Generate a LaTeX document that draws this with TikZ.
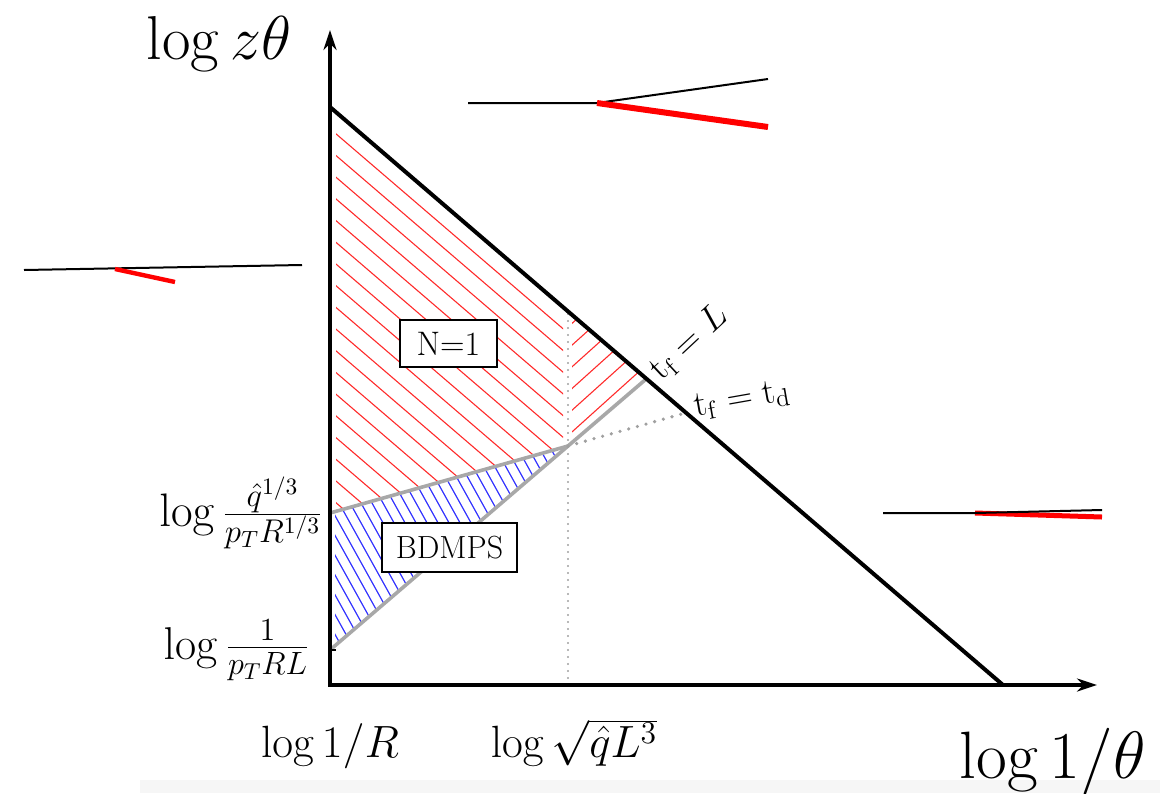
\documentclass[tikz,border=0pt]{standalone}
\usepackage{fix-cm}
\usepackage{tikz}
\usetikzlibrary{arrows.meta}
\definecolor{HatchRed}{HTML}{FF2A2A}
\definecolor{HatchBlue}{HTML}{3030FF}
\definecolor{BorderGray}{HTML}{A8A8A8}
\definecolor{DotGray}{HTML}{A0A0A0}
\definecolor{JetRed}{HTML}{FF0000}
\definecolor{StripGray}{HTML}{F6F6F6}

\begin{document}
\begin{tikzpicture}[x=0.5pt,y=-0.5pt,
    axis/.style={line width=2pt,{Stealth[length=10pt,width=6.5pt]}-{Stealth[length=10pt,width=6.5pt]}},
    edge/.style={line width=2pt},
    border/.style={BorderGray,line width=1.8pt},
    dotline/.style={DotGray,line width=1.8pt,line cap=round,dash pattern=on 0pt off 4.5pt},
    redhatch/.style={HatchRed,line width=0.55pt},
    bluehatch/.style={HatchBlue,line width=0.6pt},
    regionbox/.style={draw,line width=0.8pt,fill=white,inner sep=0pt,font=\fontsize{16}{19}\selectfont},
    biglabel/.style={font=\fontsize{31}{36}\selectfont,inner sep=0pt},
    ticklabel/.style={font=\fontsize{22.6}{27}\selectfont,inner sep=0pt},
    linelabel/.style={font=\fontsize{18}{21}\selectfont,inner sep=0pt},
    jet/.style={line width=1pt},
    lead/.style={JetRed,line width=3pt},
  ]
  \useasboundingbox (0,0) rectangle (1160,793);
  \fill[StripGray] (140,780) rectangle (1160,793);

  % corner points of the plane
  \coordinate (ytip) at (330,30);
  \coordinate (xtip) at (1097,685);
  \coordinate (ztop) at (330,107);
  \coordinate (zend) at (1003,685);
  \coordinate (qhat) at (330,513);
  \coordinate (inv) at (330,650);
  \coordinate (cross) at (568,446);
  \coordinate (sqrtL) at (568,685);
  \coordinate (tfL) at (intersection of inv--cross and ztop--zend);
  \coordinate (tftd) at (intersection of qhat--cross and ztop--zend);
  \coordinate (diag) at (intersection of sqrtL--cross and ztop--zend);

  % N=1 region
  \begin{scope}
    \clip (ztop) -- (qhat) -- (cross) -- (diag) -- cycle;
    \clip (336,0) rectangle (563,700);
    \foreach \k in {1,...,19}
      \draw[redhatch] (330,107+21.7*\k) -- ++(240,206);
  \end{scope}
  \begin{scope}
    \clip (diag) -- (cross) -- (tfL) -- cycle;
    \clip (572,0) rectangle (700,700);
    \foreach \k in {-3,...,6}
      \draw[redhatch] (568,327+21.7*\k) -- ++(100,-90);
  \end{scope}

  % BDMPS region
  \begin{scope}
    \clip (qhat) -- (cross) -- (inv) -- cycle;
    \clip (335,0) rectangle (700,700);
    \foreach \k in {0,...,34}
      \draw[bluehatch] (205+11*\k,440) -- ++(120,216);
  \end{scope}

  \draw[border] (inv) -- (tfL);
  \draw[border] (qhat) -- (cross);
  \draw[dotline] (cross) -- (tftd);
  \draw[dotline,line width=1.1pt,dash pattern=on 0pt off 3.5pt] (sqrtL) -- (diag);
  \draw[edge] (ztop) -- (zend);
  \draw[axis] (ytip) |- (xtip);
  \draw[line width=0.6pt] (inv) -- ++(6,0);

  \node[regionbox,minimum width=48.5pt,minimum height=23.5pt,font=\fontsize{17}{20}\selectfont] (single) at (448.5,343.5) {N=1};
  \node[regionbox,minimum width=67.5pt,minimum height=24.5pt] (bdmps) at (449.5,547.5) {BDMPS};

  \node[biglabel,anchor=base] (ylab) at (219,59) {$\log z\theta$};
  \node[biglabel,anchor=base,font=\fontsize{33.5}{38}\selectfont] (xlab) at (1053,778) {$\log 1/\theta$};
  \node[ticklabel,anchor=base] (rlab) at (330,757) {$\log 1/R$};
  \node[ticklabel,anchor=base] (llab) at (574,757) {$\log\sqrt{\hat q L^3}$};
  \node[ticklabel,font=\fontsize{23.5}{28}\selectfont,anchor=base east] (qlab) at (323,526) {$\log\frac{\hat q^{1/3}}{p_T R^{1/3}}$};
  \node[ticklabel,font=\fontsize{23}{28}\selectfont,anchor=base east] (plab) at (310,659) {$\log\frac{1}{p_TRL}$};
  \node[linelabel,rotate=43] (tLlab) at (689,343) {$\mathrm{t_f}=L$};
  \node[linelabel,rotate=10] (tdlab) at (742,400) {$\mathrm{t_f}=\mathrm{t_d}$};

  % jet sketches
  \coordinate (jaS) at (468,103);
  \coordinate (jaV) at (597,103);
  \coordinate (jaB) at (768,79);
  \coordinate (jaR) at (768,127);
  \draw[jet] (jaS) -- (jaV) -- (jaB);
  \draw[lead] (jaV) -- (jaR);

  \coordinate (jbS) at (24,270);
  \coordinate (jbB) at (302,265);
  \coordinate (jbV) at (115,269);
  \coordinate (jbR) at (175,282);
  \draw[jet] (jbS) -- (jbB);
  \draw[lead,line width=2.2pt] (jbV) -- (jbR);

  \coordinate (jcS) at (883,513);
  \coordinate (jcV) at (975,513);
  \coordinate (jcB) at (1102,510);
  \coordinate (jcR) at (1102,517);
  \draw[lead,line width=2.5pt] (jcV) -- (jcR);
  \draw[jet] (jcS) -- (jcV) -- (jcB);
\end{tikzpicture}
\end{document}
